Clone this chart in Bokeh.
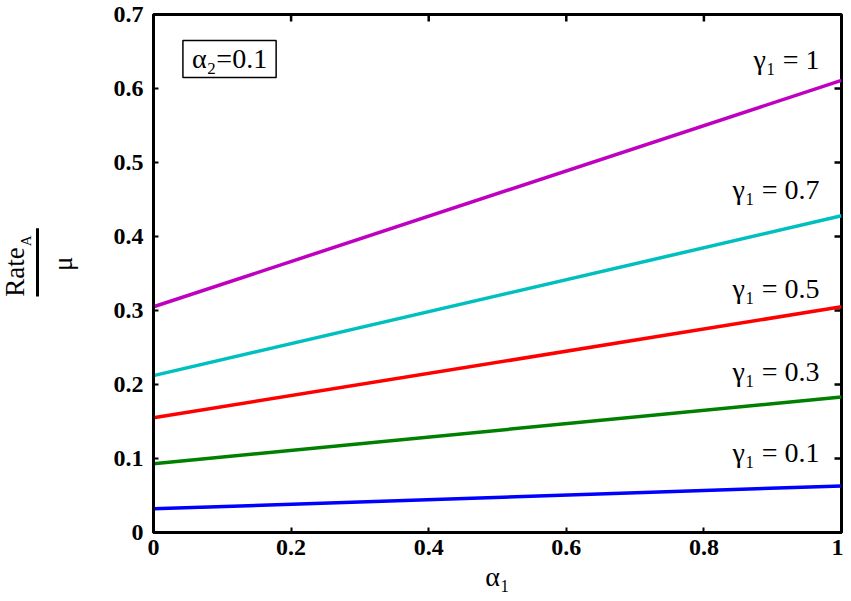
import math
from bokeh.plotting import figure
from bokeh.layouts import row
from bokeh.models import Range1d, Label, FixedTicker
from bokeh.core.properties import value
from bokeh.embed import file_html
from bokeh.resources import INLINE

# ---- data ----
alpha1 = [0.0, 1.0]
rate_g1 = [0.305, 0.611]
rate_g07 = [0.212, 0.428]
rate_g05 = [0.155, 0.305]
rate_g03 = [0.093, 0.183]
rate_g01 = [0.032, 0.063]
series_labels = ["γ₁ = 1", "γ₁ = 0.7", "γ₁ = 0.5", "γ₁ = 0.3", "γ₁ = 0.1"]
x_ticks = [0, 0.2, 0.4, 0.6, 0.8, 1]
y_ticks = [0, 0.1, 0.2, 0.3, 0.4, 0.5, 0.6, 0.7]

colors = ["#BF00BF", "#00BFBF", "#FF0000", "#008000", "#0000FF"]
series = [rate_g1, rate_g07, rate_g05, rate_g03, rate_g01]
label_y = [0.639, 0.463, 0.330, 0.218, 0.108]

FW, FH = 688, 518
XMAX, YMAX = 1.0, 0.7
LW = 80          # width of the strip holding the y-axis label
TOP = 14
serif = "Liberation Serif"

# ---- left strip with the fraction label Rate_A / mu ----
lab = figure(frame_width=LW, frame_height=FH, output_backend="svg",
             toolbar_location=None, x_range=Range1d(0, LW), y_range=Range1d(0, YMAX),
             min_border_left=0, min_border_right=0, min_border_top=TOP,
             min_border_bottom=0)
lab.axis.visible = False
lab.grid.visible = False
lab.outline_line_color = None
lab.background_fill_color = "white"
lab.border_fill_color = "white"
lab.text(x=[14], y=[0.352], text=["Rate"], angle=math.pi / 2, text_align="center",
         text_baseline="middle", text_font=value(serif), text_font_size="27px",
         text_color="black")
lab.text(x=[25], y=[0.394], text=["A"], angle=math.pi / 2, text_align="center",
         text_baseline="middle", text_font=value(serif), text_font_size="15px",
         text_color="black")
lab.segment(x0=[37], y0=[0.319], x1=[37], y1=[0.411], line_color="black", line_width=3)
lab.text(x=[62], y=[0.363], text=["μ"], angle=math.pi / 2, text_align="center",
         text_baseline="middle", text_font=value(serif), text_font_size="27px",
         text_color="black")

# ---- main plot ----
p = figure(frame_width=FW, frame_height=FH, output_backend="svg",
           toolbar_location=None, x_range=Range1d(0, XMAX), y_range=Range1d(0, YMAX),
           min_border_left=153 - LW, min_border_top=TOP, min_border_right=2,
           min_border_bottom=10)
p.background_fill_color = "white"
p.border_fill_color = "white"
p.grid.visible = False
p.outline_line_color = "black"
p.outline_line_width = 3

for ax in (p.xaxis[0], p.yaxis[0]):
    ax.axis_line_width = 3
    ax.major_tick_in = 5
    ax.major_tick_out = 0
    ax.major_tick_line_width = 2
    ax.minor_tick_line_color = None
    ax.major_label_text_font = serif
    ax.major_label_text_font_style = "bold"
    ax.major_label_text_font_size = "24px"
    ax.major_label_text_color = "black"

p.xaxis[0].major_label_standoff = 7
p.yaxis[0].major_label_standoff = 10
p.xaxis[0].ticker = FixedTicker(ticks=x_ticks)
p.yaxis[0].ticker = FixedTicker(ticks=y_ticks)
p.xaxis[0].major_label_overrides = {0: "0", 1: "1"}
p.yaxis[0].major_label_overrides = {0: "0"}
p.xaxis[0].axis_label = "α₁"
p.xaxis[0].axis_label_text_font = serif
p.xaxis[0].axis_label_text_font_style = "normal"
p.xaxis[0].axis_label_text_font_size = "28px"
p.xaxis[0].axis_label_text_color = "black"
p.xaxis[0].axis_label_standoff = 3

# mirrored inward ticks on top and right edges
tick_px = 7
p.segment(x0=x_ticks, y0=[YMAX] * len(x_ticks), x1=x_ticks,
          y1=[YMAX - tick_px * YMAX / FH] * len(x_ticks),
          line_color="black", line_width=2.5)
p.segment(x0=[XMAX] * len(y_ticks), y0=y_ticks,
          x1=[XMAX - tick_px * XMAX / FW] * len(y_ticks), y1=y_ticks,
          line_color="black", line_width=2.5)

for ys, c in zip(series, colors):
    p.line(alpha1, ys, line_color=c, line_width=3.5)

p.text(x=[0.968] * 5, y=label_y, text=series_labels, text_align="right",
       text_baseline="middle", text_font=value(serif), text_font_size="28px",
       text_color="black")

p.add_layout(Label(x=0.1105, y=0.640, text="α₂=0.1", text_align="center",
                   text_baseline="middle", text_font=serif, text_font_size="28px",
                   text_color="black",
                   border_line_color="black", border_line_width=1.5,
                   background_fill_color="white",
                   padding=dict(left=9, right=9, top=3, bottom=3)))

layout = row(lab, p)
open("out.html", "w").write(file_html(layout, INLINE))
